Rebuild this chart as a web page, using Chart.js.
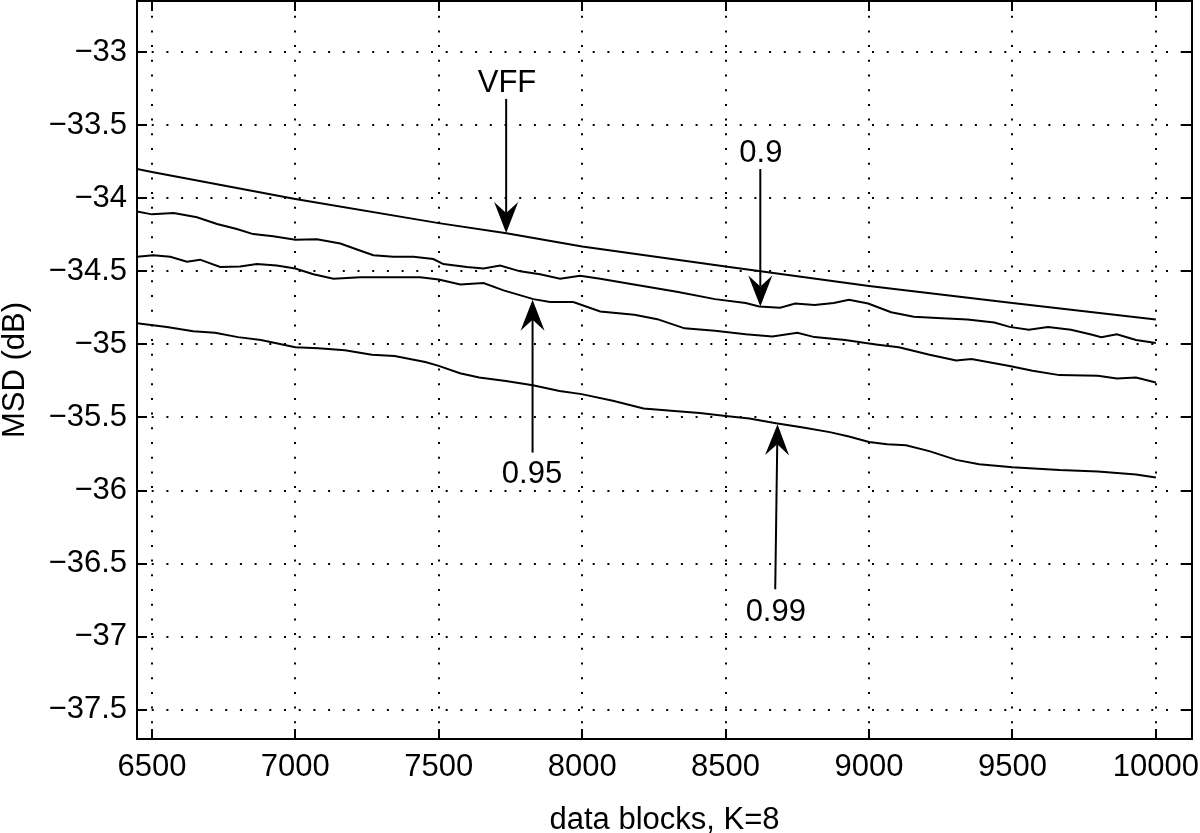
<!DOCTYPE html>
<html>
<head>
<meta charset="utf-8">
<script src="https://cdn.jsdelivr.net/npm/chart.js@4.4.1/dist/chart.umd.min.js"></script>
<style>
  html, body { margin: 0; padding: 0; background: #fff; }
  #wrap { width: 1200px; height: 833px; position: relative; }
</style>
</head>
<body>
<div id="wrap"><canvas id="miGrafico"></canvas></div>
<script>
// ticks
const xTicks = [6500, 7000, 7500, 8000, 8500, 9000, 9500, 10000];
const yTicks = [-37.5, -37, -36.5, -36, -35.5, -35, -34.5, -34, -33.5, -33];

// VFF curve
const xVff = [6448, 6500, 7000, 7500, 7736, 8000, 8500, 9000, 9500, 10000];
const yVff = [-33.80, -33.82, -34.005, -34.17, -34.24, -34.33, -34.466, -34.60, -34.717, -34.83];

// lambda = 0.9
const x090 = [6448, 6500, 6576, 6657, 6727, 6796, 6853, 6923, 7000, 7075, 7157, 7215, 7272, 7342, 7412, 7481, 7516, 7598, 7656, 7714,
  7784, 7853, 7923, 7993, 8063, 8170, 8330, 8463, 8570, 8617, 8690, 8743, 8810, 8877, 8930, 8997, 9077, 9156, 9237, 9343,
  9437, 9490, 9557, 9624, 9704, 9771, 9810, 9864, 9931, 10000];
const y090 = [-34.09, -34.11, -34.10, -34.13, -34.176, -34.21, -34.245, -34.26, -34.283, -34.28, -34.31, -34.35, -34.39, -34.40, -34.40, -34.416, -34.45, -34.47, -34.48, -34.46,
  -34.50, -34.52, -34.55, -34.53, -34.55, -34.587, -34.64, -34.69, -34.717, -34.74, -34.749, -34.72, -34.73, -34.717, -34.694, -34.72, -34.78, -34.81, -34.82, -34.83,
  -34.85, -34.88, -34.90, -34.88, -34.90, -34.93, -34.95, -34.93, -34.97, -34.99];

// lambda = 0.95
const x095 = [6448, 6505, 6564, 6622, 6668, 6738, 6808, 6866, 6935, 7000, 7063, 7133, 7226, 7319, 7435, 7500, 7575, 7656, 7726, 7830,
  7888, 7969, 8063, 8182, 8262, 8357, 8463, 8570, 8663, 8750, 8810, 8917, 9024, 9104, 9211, 9304, 9357, 9490, 9570, 9664,
  9798, 9864, 9931, 10000];
const y095 = [-34.40, -34.39, -34.40, -34.434, -34.42, -34.47, -34.466, -34.45, -34.46, -34.48, -34.52, -34.55, -34.54, -34.54, -34.54, -34.556, -34.59, -34.58, -34.63, -34.69,
  -34.71, -34.71, -34.775, -34.797, -34.827, -34.89, -34.907, -34.93, -34.945, -34.92, -34.95, -34.97, -35.00, -35.02, -35.07, -35.11, -35.10, -35.147, -35.18, -35.21,
  -35.215, -35.233, -35.226, -35.26];

// lambda = 0.99
const x099 = [6448, 6552, 6644, 6720, 6800, 6880, 7000, 7080, 7173, 7267, 7346, 7453, 7500, 7574, 7641, 7734, 7828, 7921, 7998, 8107,
  8214, 8321, 8410, 8500, 8583, 8676, 8770, 8863, 8930, 9000, 9063, 9129, 9210, 9304, 9384, 9500, 9664, 9798, 9931, 10000];
const y099 = [-34.855, -34.88, -34.91, -34.92, -34.95, -34.97, -35.02, -35.027, -35.04, -35.07, -35.08, -35.12, -35.147, -35.197, -35.226, -35.25, -35.28, -35.318, -35.34, -35.386,
  -35.438, -35.455, -35.47, -35.49, -35.507, -35.54, -35.568, -35.60, -35.63, -35.667, -35.683, -35.69, -35.73, -35.79, -35.82, -35.84, -35.86, -35.87, -35.89, -35.91];

// arrow labels (data coordinates)
const notes = [
  { text: 'VFF', tx: 7738, ty: -33.274, x0: 7735, y0: -33.32, x1: 7735, y1: -34.238 },
  { text: '0.9', tx: 8623, ty: -33.753, x0: 8621, y0: -33.80, x1: 8621, y1: -34.74 },
  { text: '0.95', tx: 7825, ty: -35.945, x0: 7827, y0: -35.74, x1: 7827, y1: -34.695 },
  { text: '0.99', tx: 8675, ty: -36.893, x0: 8673, y0: -36.676, x1: 8681, y1: -35.546 }
];

const FONT = { family: '"Liberation Sans", Arial, Helvetica, sans-serif', size: 31 };

function pts(xs, ys) {
  return xs.map((x, i) => ({ x: x, y: ys[i] }));
}
function fmt(v) {
  return (v < 0 ? '\u2212' : '') + Math.abs(v);
}
function serie(xs, ys) {
  return { data: pts(xs, ys), borderColor: '#000', borderWidth: 2, pointRadius: 0, tension: 0, fill: false };
}

// caja tipo matlab con ticks hacia adentro + flechas
const boxPlugin = {
  id: 'boxPlugin',
  afterDatasetsDraw(chart) {
    const { ctx, chartArea: a, scales } = chart;
    const sx = scales.x, sy = scales.y;
    ctx.save();
    ctx.strokeStyle = '#000';
    ctx.lineWidth = 2;
    ctx.strokeRect(a.left, a.top, a.right - a.left, a.bottom - a.top);
    const tl = 10;
    ctx.beginPath();
    xTicks.forEach(v => {
      const p = Math.round(sx.getPixelForValue(v));
      ctx.moveTo(p, a.bottom); ctx.lineTo(p, a.bottom - tl);
      ctx.moveTo(p, a.top); ctx.lineTo(p, a.top + tl);
    });
    yTicks.forEach(v => {
      const p = Math.round(sy.getPixelForValue(v));
      ctx.moveTo(a.left, p); ctx.lineTo(a.left + tl, p);
      ctx.moveTo(a.right, p); ctx.lineTo(a.right - tl, p);
    });
    ctx.stroke();

    // flechas
    ctx.fillStyle = '#000';
    ctx.font = FONT.size + 'px ' + FONT.family;
    ctx.textAlign = 'center';
    ctx.textBaseline = 'alphabetic';
    notes.forEach(n => {
      const px0 = sx.getPixelForValue(n.x0), py0 = sy.getPixelForValue(n.y0);
      const px1 = sx.getPixelForValue(n.x1), py1 = sy.getPixelForValue(n.y1);
      const ang = Math.atan2(py1 - py0, px1 - px0);
      const len = 31, half = 12, notch = 20;
      ctx.lineWidth = 2;
      ctx.beginPath();
      ctx.moveTo(px0, py0);
      ctx.lineTo(px1 - Math.cos(ang) * notch, py1 - Math.sin(ang) * notch);
      ctx.stroke();
      ctx.save();
      ctx.translate(px1, py1);
      ctx.rotate(ang);
      ctx.beginPath();
      ctx.moveTo(0, 0);
      ctx.lineTo(-len, -half);
      ctx.lineTo(-notch, 0);
      ctx.lineTo(-len, half);
      ctx.closePath();
      ctx.fill();
      ctx.restore();
      ctx.fillText(n.text, sx.getPixelForValue(n.tx), sy.getPixelForValue(n.ty));
    });
    ctx.restore();
  }
};

const ctx = document.getElementById('miGrafico').getContext('2d');
const miGrafico = new Chart(ctx, {
  type: 'line',
  data: {
    datasets: [serie(xVff, yVff), serie(x090, y090), serie(x095, y095), serie(x099, y099)]
  },
  options: {
    responsive: true,
    maintainAspectRatio: false,
    animation: false,
    events: [],
    layout: { padding: { left: 0, right: 8, top: 1, bottom: 0 } },
    plugins: { legend: { display: false }, tooltip: { enabled: false } },
    scales: {
      x: {
        type: 'linear',
        min: 6448,
        max: 10126,
        afterBuildTicks: s => { s.ticks = xTicks.map(v => ({ value: v })); },
        afterFit: s => { s.height = 94; s.paddingLeft = 0; s.paddingRight = 0; },
        grid: { color: '#000', lineWidth: 2, drawTicks: false },
        border: { display: false, dash: [2, 12.7] },
        ticks: { color: '#000', font: FONT, padding: 10, maxRotation: 0, callback: v => String(v) },
        title: { display: true, text: 'data blocks, K=8', color: '#000', font: { family: FONT.family, size: 31, lineHeight: 0.8 }, padding: { top: 0, bottom: 0 } }
      },
      y: {
        type: 'linear',
        min: -37.7,
        max: -32.65,
        afterBuildTicks: s => { s.ticks = yTicks.map(v => ({ value: v })); },
        afterFit: s => { s.width = 137; s.paddingTop = 0; s.paddingBottom = 0; },
        grid: { color: '#000', lineWidth: 2, drawTicks: false },
        border: { display: false, dash: [2, 12.7] },
        ticks: { color: '#000', font: FONT, padding: 10, callback: v => fmt(v) },
        title: { display: true, text: 'MSD (dB)', color: '#000', font: { family: FONT.family, size: 31, lineHeight: 1 }, padding: { top: 0, bottom: 0 } }
      }
    }
  },
  plugins: [boxPlugin]
});
</script>
</body>
</html>
